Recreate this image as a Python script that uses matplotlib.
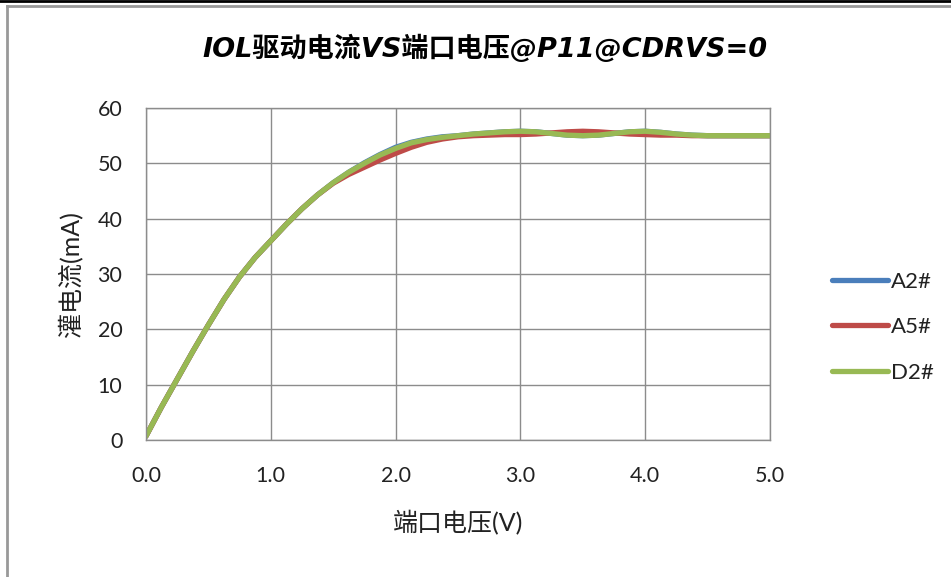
import matplotlib
matplotlib.use("Agg")
import matplotlib.pyplot as plt
from matplotlib.lines import Line2D

plt.rcParams['font.family'] = ['Lato', 'Noto Sans CJK SC', 'DejaVu Sans']

# 端口电压 (V)
voltage = [0.0, 0.125, 0.25, 0.375, 0.5, 0.625, 0.75, 0.875, 1.0, 1.125,
           1.25, 1.375, 1.5, 1.625, 1.75, 1.875, 2.0, 2.125, 2.25, 2.375,
           2.5, 2.625, 2.75, 2.875, 3.0, 3.125, 3.25, 3.375, 3.5, 3.625,
           3.75, 3.875, 4.0, 4.125, 4.25, 4.375, 4.5, 4.625, 4.75, 4.875, 5.0]
# 灌电流 (mA)
a2 = [0.7, 6.0, 11.0, 16.0, 20.8, 25.4, 29.5, 33.0, 36.0, 39.0,
      41.8, 44.3, 46.5, 48.4, 50.1, 51.6, 52.9, 53.8, 54.4, 54.8,
      55.0, 55.3, 55.5, 55.7, 55.8, 55.7, 55.4, 55.1, 55.0, 55.1,
      55.4, 55.7, 55.8, 55.6, 55.3, 55.1, 55.0, 55.0, 55.0, 55.0, 55.0]
a5 = [0.7, 6.0, 11.0, 16.0, 20.8, 25.4, 29.5, 33.0, 36.0, 39.0,
      41.8, 44.3, 46.4, 48.0, 49.3, 50.6, 51.8, 52.9, 53.8, 54.4,
      54.8, 55.0, 55.1, 55.2, 55.2, 55.3, 55.5, 55.7, 55.8, 55.7,
      55.5, 55.3, 55.2, 55.1, 55.1, 55.0, 55.0, 55.0, 55.0, 55.0, 55.0]
d2 = [0.7, 6.0, 11.0, 16.0, 20.8, 25.4, 29.5, 33.0, 36.0, 39.0,
      41.8, 44.3, 46.5, 48.4, 50.0, 51.5, 52.7, 53.7, 54.3, 54.7,
      55.0, 55.3, 55.5, 55.7, 55.8, 55.7, 55.4, 55.1, 55.0, 55.1,
      55.4, 55.7, 55.8, 55.6, 55.3, 55.1, 55.0, 55.0, 55.0, 55.0, 55.0]

series = [("A2#", a2, "#4a7ebb"), ("A5#", a5, "#be4b48"), ("D2#", d2, "#98b954")]

fig = plt.figure(figsize=(9.51, 5.77), dpi=100)
ax = fig.add_axes([0.1535, 0.2374, 0.6562, 0.5754])

for name, vals, col in series:
    ax.plot(voltage, vals, color=col, lw=3.8, label=name,
            solid_capstyle='round', solid_joinstyle='round')

ax.set_xlim(0, 5)
ax.set_ylim(0, 60)
ax.set_xticks([0, 1, 2, 3, 4, 5])
ax.set_xticklabels(["0.0", "1.0", "2.0", "3.0", "4.0", "5.0"])
ax.set_yticks(range(0, 61, 10))
ax.grid(True, color="#8c8c8c", lw=1.0)
ax.set_axisbelow(True)
for s in ax.spines.values():
    s.set_color("#8c8c8c")
    s.set_linewidth(1.0)
ax.tick_params(length=0, labelsize=15.5, colors="#222222")
ax.tick_params(axis='x', pad=19)
ax.tick_params(axis='y', pad=17)

ax.set_xlabel("端口电压(V)", fontsize=18, labelpad=17, color="#222222")
ax.set_ylabel("灌电流(mA)", fontsize=18, labelpad=11, color="#222222")
ax.set_title("IOL驱动电流VS端口电压@P11@CDRVS=0", fontsize=19.5,
             fontweight='bold', style='italic', pad=37, x=0.543,
             family=['DejaVu Sans', 'Noto Sans CJK SC'])

leg = ax.legend(loc='center left', bbox_to_anchor=(1.068, 0.34), frameon=False,
                fontsize=16, handlelength=2.5, handletextpad=0.15,
                labelspacing=1.15)
for t in leg.get_texts():
    t.set_color("#222222")

# outer chart frame
fig.add_artist(Line2D([0, 1], [0.999, 0.999], color="black", lw=2,
                      transform=fig.transFigure))
fig.add_artist(Line2D([0.0075, 1], [0.990, 0.990], color="#999999", lw=2,
                      transform=fig.transFigure))
fig.add_artist(Line2D([0.0075, 0.0075], [0, 0.990], color="#999999", lw=2,
                      transform=fig.transFigure))

fig.savefig("out.png", dpi=100)
